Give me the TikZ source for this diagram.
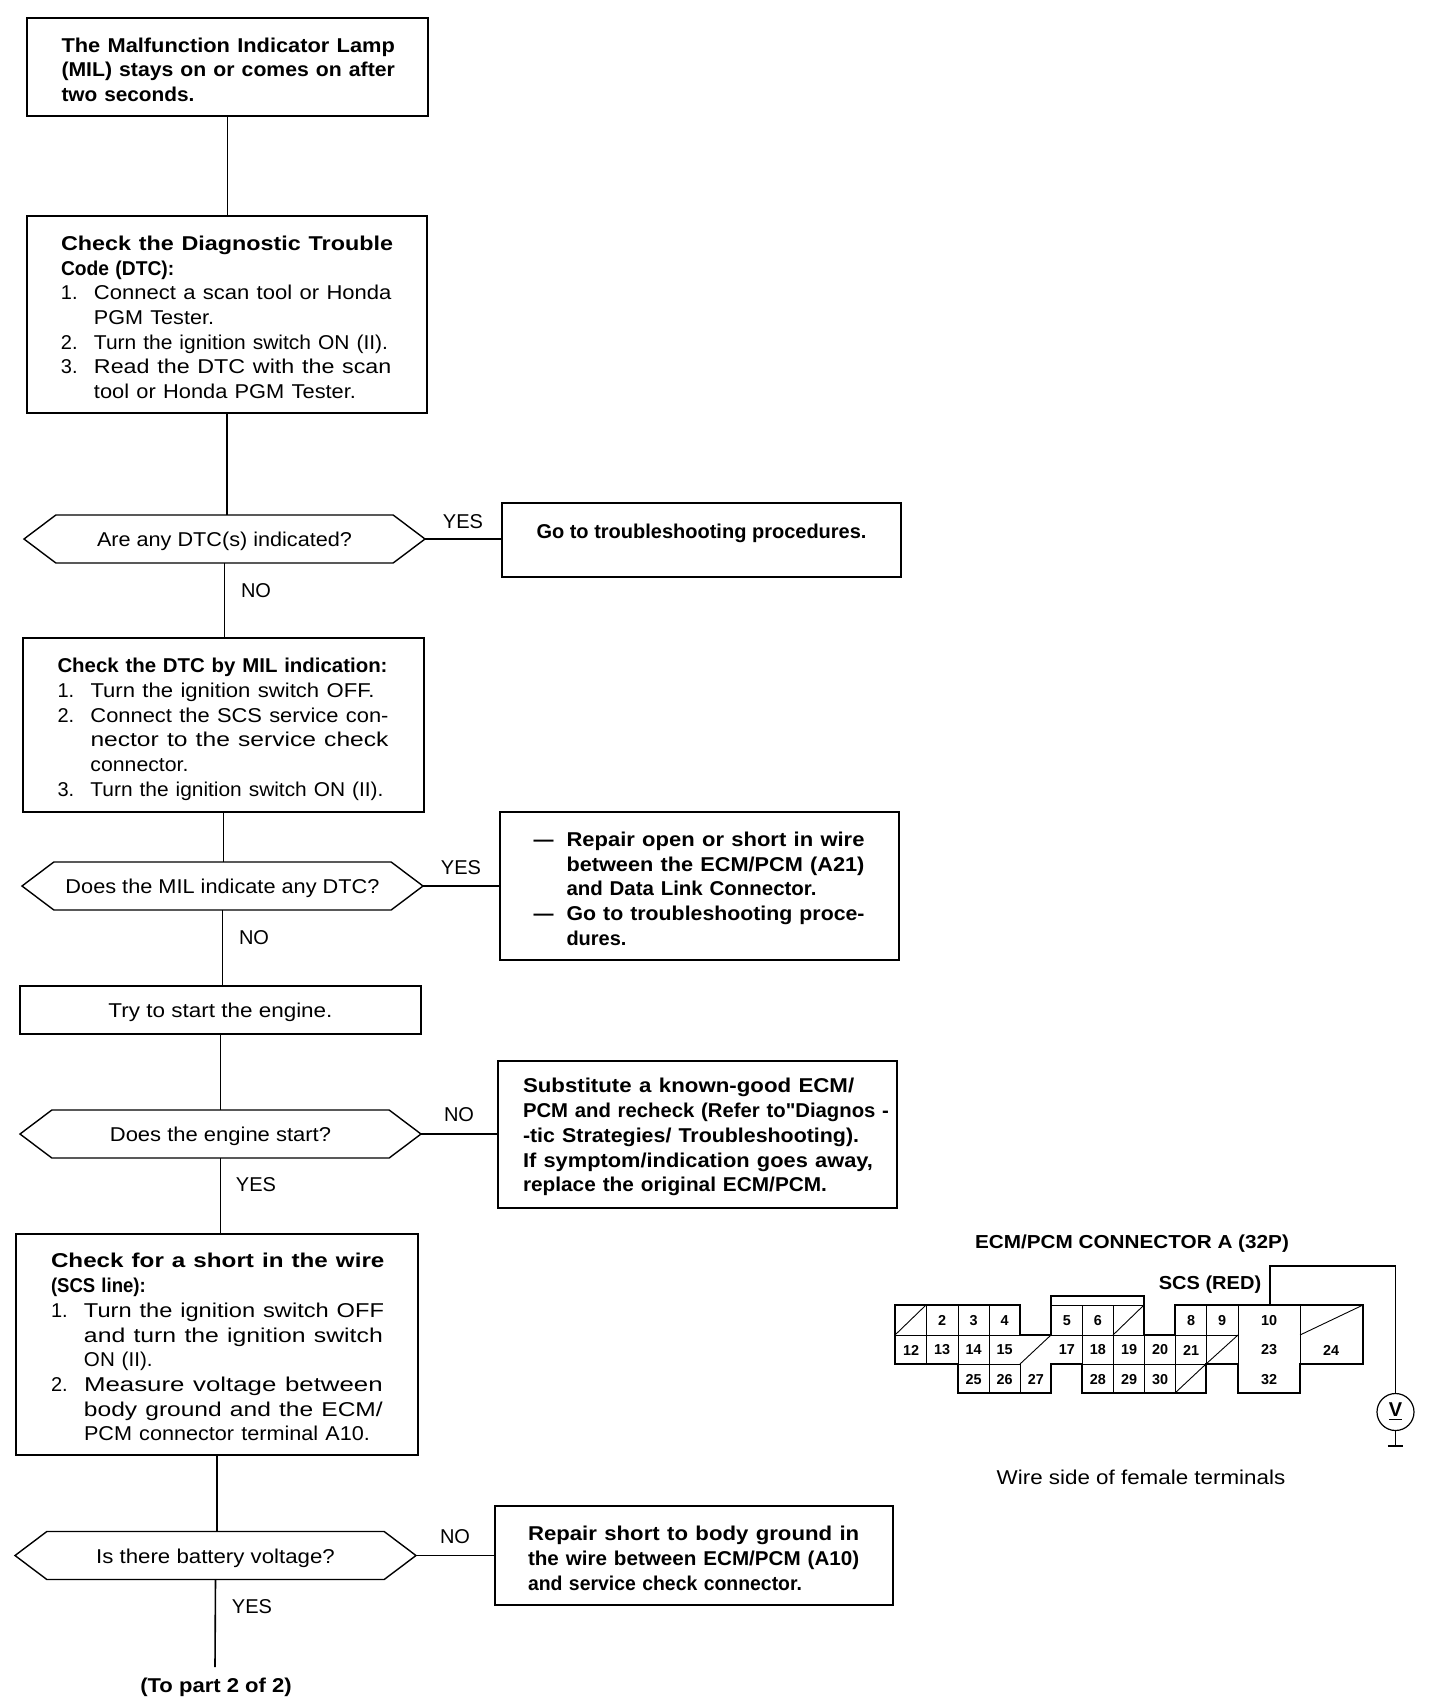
\documentclass[tikz,border=0pt]{standalone}
\usepackage{fontspec}
\setmainfont{Liberation Sans}[Ligatures=TeXOff]
\usetikzlibrary{shapes.symbols}
\newcommand{\fw}[2]{\resizebox{#1pt}{\height}{#2}}
\newcommand{\li}[3]{\makebox[16.5pt][l]{#1}\fw{#2}{#3}}
\newcommand{\lc}[2]{\hspace*{16.5pt}\fw{#1}{#2}}
\newcommand{\dn}[2]{\raisebox{-1.4pt}[7pt][2pt]{\fw{#1}{#2}}}
\tikzset{
  txt/.style={font=\fontsize{10}{12.35}\selectfont},
  txtb/.style={font=\fontsize{10}{12.35}\selectfont\bfseries},
  procbox/.style={draw,line width=0.7pt,rectangle,align=left,inner xsep=0pt,inner ysep=0pt,outer sep=0pt},
  stepbox/.style={procbox,text width=166pt,execute at begin node={\rule{0pt}{10pt}}},
  decbox/.style={txt,draw,line width=0.7pt,signal,signal to=east and west,signal pointer angle=74,
    minimum width=200.5pt,minimum height=24pt,inner xsep=0pt,inner ysep=0pt,outer sep=0pt},
  lbl/.style={txt,inner sep=0pt},
  pinlbl/.style={font=\fontsize{7.2}{8}\selectfont\bfseries,inner sep=0pt},
  wire/.style={line width=0.8pt},
  thinwire/.style={line width=0.45pt}
}
\begin{document}
\begin{tikzpicture}[x=0.5pt,y=-0.5pt]
  \useasboundingbox (0,0) rectangle (1440,1708);
  % left column
  \node[stepbox,txtb,minimum width=200.5pt,minimum height=49pt] (lamp) at (227.5,67) {\fw{166.7}{The Malfunction Indicator Lamp}\\\fw{166.7}{(MIL) stays on or comes on after}\\\fw{66.5}{two seconds.}};
  \node[stepbox,txt,minimum width=200pt,minimum height=98.5pt] (dtc) at (227,314.5) {\textbf{\fw{166}{Check the Diagnostic Trouble}}\\\textbf{\fw{56.6}{Code (DTC):}}\\\li{1.}{148.7}{Connect a scan tool or Honda}\\\lc{60}{PGM Tester.}\\\li{2.}{147}{Turn the ignition switch ON (II).}\\\li{3.}{148.7}{Read the DTC with the scan}\\\lc{131}{tool or Honda PGM Tester.}};
  \node[decbox] (anydtc) at (224.5,539) {\dn{127.5}{Are any DTC(s) indicated?}};
  \node[stepbox,txt,minimum width=200.5pt,minimum height=87pt,execute at begin node={\rule{0pt}{11.7pt}}] (mil) at (223.5,725) {\textbf{\fw{165}{Check the DTC by MIL indication:}}\\\li{1.}{142}{Turn the ignition switch OFF.}\\\li{2.}{149}{Connect the SCS service con-}\\\lc{149}{nector to the service check}\\\lc{49}{connector.}\\\li{3.}{146.5}{Turn the ignition switch ON (II).}};
  \node[decbox] (anymil) at (222.5,886) {\dn{157}{Does the MIL indicate any DTC?}};
  \node[procbox,txt,minimum width=200.5pt,minimum height=24pt,align=center] (try) at (220.5,1010) {\dn{112}{Try to start the engine.}};
  \node[decbox] (start) at (220.5,1134) {\dn{110.6}{Does the engine start?}};
  \node[stepbox,txt,minimum width=201pt,minimum height=110.5pt] (short) at (217,1344.5) {\textbf{\fw{166.7}{Check for a short in the wire}}\\\textbf{\fw{47.4}{(SCS line):}}\\\li{1.}{150}{Turn the ignition switch OFF}\\\lc{149.4}{and turn the ignition switch}\\\lc{34.3}{ON (II).}\\\li{2.}{149.4}{Measure voltage between}\\\lc{149.4}{body ground and the ECM/}\\\lc{143}{PCM connector terminal A10.}};
  \node[decbox] (batt) at (215.5,1555.5) {\dn{119.3}{Is there battery voltage?}};
  \coordinate (stem) at (215,1667);
  \node[lbl,txtb] (part) at (216,1687) {\fw{75.7}{(To part 2 of 2)}};
  % right column
  \node[procbox,txtb,minimum width=199.5pt,minimum height=37pt,align=center] (go) at (701.5,540) {\raisebox{8.7pt}{Go to troubleshooting procedures.}};
  \node[stepbox,txtb,minimum width=199.5pt,minimum height=74pt] (repair) at (699.5,886) {\makebox[16.5pt][l]{\textemdash}\fw{149}{Repair open or short in wire}\\\lc{149}{between the ECM/PCM (A21)}\\\lc{125}{and Data Link Connector.}\\\makebox[16.5pt][l]{\textemdash}\fw{149}{Go to troubleshooting proce-}\\\lc{30}{dures.}};
  \node[stepbox,txtb,minimum width=199.5pt,minimum height=73.5pt,text width=174.5pt] (subst) at (697.5,1134.5) {\fw{165.6}{Substitute a known-good ECM/}\\\fw{183}{PCM and recheck (Refer to"Diagnos -}\\\fw{168}{-tic Strategies/ Troubleshooting).}\\\fw{175}{If symptom/indication goes away,}\\\fw{152}{replace the original ECM/PCM.}};
  \node[stepbox,txtb,minimum width=199pt,minimum height=49.5pt] (wirefix) at (694,1555.5) {\fw{165.6}{Repair short to body ground in}\\\fw{165.6}{the wire between ECM/PCM (A10)}\\\fw{137}{and service check connector.}};
  % yes and no
  \node[lbl] (y1) at (463,522) {YES};
  \node[lbl] (n1) at (256,591) {NO};
  \node[lbl] (y2) at (461,868) {YES};
  \node[lbl] (n2) at (254,938) {NO};
  \node[lbl] (n3) at (459,1115) {NO};
  \node[lbl] (y3) at (256,1185) {YES};
  \node[lbl] (n4) at (455,1537) {NO};
  \node[lbl] (y4) at (252,1607) {YES};
  % connectors
  \draw[wire] (lamp.south) -- (lamp.south |- dtc.north);
  \draw[wire] (dtc.south) -- (dtc.south |- anydtc.north);
  \draw[wire] (anydtc.south) -- (anydtc.south |- mil.north);
  \draw[wire] (mil.south) -- (mil.south |- anymil.north);
  \draw[wire] (anymil.south) -- (anymil.south |- try.north);
  \draw[wire] (try.south) -- (try.south |- start.north);
  \draw[wire] (start.south) -- (start.south |- short.north);
  \draw[wire] (short.south) -- (short.south |- batt.north);
  \draw[wire] (batt.south) -- (stem);
  \draw[wire] (anydtc.east) -- (anydtc.east -| go.west);
  \draw[wire] (anymil.east) -- (anymil.east -| repair.west);
  \draw[wire] (start.east) -- (start.east -| subst.west);
  \draw[wire] (batt.east) -- (batt.east -| wirefix.west);
  % connector outline
  \draw[line width=0.9pt] (895,1305) -- (1020,1305) -- (1020,1335) -- (1051,1335) -- (1051,1296) -- (1144,1296) -- (1144,1335) -- (1175,1335) -- (1175,1305) -- (1363,1305) -- (1363,1364) -- (1300,1364) -- (1300,1393) -- (1238,1393) -- (1238,1364) -- (1206,1364) -- (1206,1393) -- (1082,1393) -- (1082,1364) -- (1051,1364) -- (1051,1393) -- (958,1393) -- (958,1364) -- (895,1364) -- cycle;
  \foreach \x/\ya/\yb in {926/1305/1364,958/1305/1364,989/1305/1393,1020/1364/1393,1082/1305/1364,1113/1305/1393,1144/1335/1393,1175/1335/1393,1206/1305/1364,1238/1305/1364,1300/1305/1364}
    \draw[thinwire] (\x,\ya) -- (\x,\yb);
  \foreach \xa/\xb/\y in {895/1020/1335,1051/1144/1335,1175/1238/1335,958/1020/1364,1082/1206/1364,1051/1144/1305}
    \draw[thinwire] (\xa,\y) -- (\xb,\y);
  % blanked terminals
  \foreach \xa/\ya/\xb/\yb in {895/1335/926/1305,1020/1364/1051/1335,1113/1335/1144/1305,1175/1393/1206/1364,1206/1364/1238/1335,1300/1335/1363/1305}
    \draw[thinwire] (\xa,\ya) -- (\xb,\yb);
  % terminal numbers
  \foreach \lab/\x/\y in {2/942/1320.5,3/973.5/1320.5,4/1004.7/1320.5,5/1066.8/1320.5,6/1097.8/1320.5,8/1191/1320.5,9/1222/1320.5,10/1269/1320.5,
    12/911/1350,13/942/1350,14/973.5/1350,15/1004.7/1350,17/1066.8/1350,18/1097.8/1350,19/1129/1350,20/1160/1350,21/1191/1350,23/1269/1350,24/1331/1350,
    25/973.5/1379.5,26/1004.7/1379.5,27/1035.8/1379.5,28/1097.8/1379.5,29/1129/1379.5,30/1160/1379.5,32/1269/1379.5}
    \node[pinlbl] (pin\lab) at (\x,\y) {\lab};
  \node[lbl,font=\fontsize{9.4}{11}\selectfont\bfseries] (contitle) at (1132,1244) {\fw{156.9}{ECM/PCM CONNECTOR A (32P)}};
  \node[lbl,font=\fontsize{9.4}{11}\selectfont\bfseries] (scs) at (1210,1285) {\fw{51.2}{SCS (RED)}};
  \node[lbl] (wireside) at (1141,1477) {\fw{144.3}{Wire side of female terminals}};
  % voltmeter
  \coordinate (pintop) at (1270,1305);
  \coordinate (wt) at (1395.5,1266);
  \coordinate (gnd) at (1395.5,1446);
  \node[draw,circle,line width=0.6pt,minimum size=18.5pt,inner sep=0pt,font=\bfseries\fontsize{10}{12}\selectfont] (vm) at (1395.5,1412) {\underline{V}};
  \draw[wire] (pintop) |- (wt) -- (vm.north);
  \draw[wire] (vm.south) -- (gnd);
  \draw[wire] ([xshift=-3.8pt]gnd) -- ([xshift=3.8pt]gnd);
\end{tikzpicture}
\end{document}
